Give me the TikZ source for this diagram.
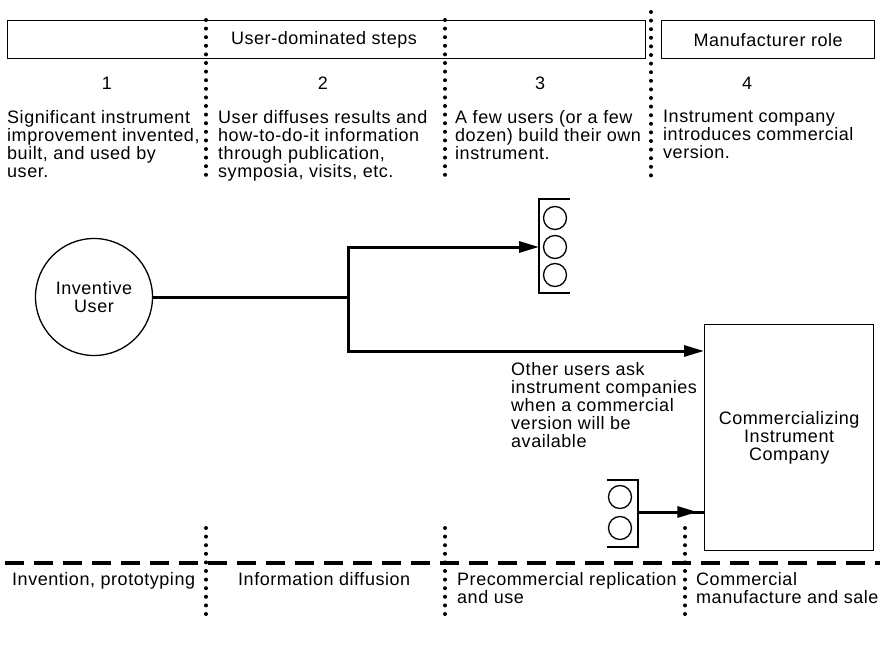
\documentclass[tikz,border=0pt]{standalone}
\usepackage{fontspec}
\setmainfont{Liberation Sans}[LetterSpace=3]
\usetikzlibrary{arrows.meta,decorations.markings}
\begin{document}
\begin{tikzpicture}[x=1pt,y=-1pt,
  every node/.style={font=\fontsize{18}{18}\selectfont, inner sep=0pt},
  frame/.style={draw, line width=1.3pt},
  dots/.style={line width=4pt, line cap=round, dash pattern=on 0pt off 8.6pt},
  phase/.style={line width=4.5pt, dash pattern=on 19pt off 10pt},
  flow/.style={line width=3pt},
  tip/.style={-{Triangle[length=20pt,width=11pt]}},
  desc/.style={align=left, anchor=north west},
  ring/.style={draw, circle, line width=1.3pt, minimum size=23pt}
]
\useasboundingbox (0,0) rectangle (892,650);

% top bars
\node[frame, minimum width=638pt, minimum height=38pt, anchor=north west] (userbar) at (7,20) {};
\node (userlbl) at (324,40) {User-dominated steps};
\node[frame, minimum width=213pt, minimum height=38pt, anchor=north west] (mfrbar) at (661,20) {Manufacturer role};

% top dotted separators
\draw[dots] (206,20) -- (206,182);
\draw[dots] (445,20) -- (445,182);
\draw[dots] (651,12) -- (651,182);

% step numbers
\node (n1) at (107,83) {1};
\node (n2) at (323,83) {2};
\node (n3) at (540,83) {3};
\node (n4) at (747,83) {4};

% step descriptions
\node[desc] (d1) at (7,110) {Significant instrument\\improvement invented,\\built, and used by\\user.};
\node[desc] (d2) at (218,110) {User diffuses results and\\how-to-do-it information\\through publication,\\symposia, visits, etc.};
\node[desc] (d3) at (455,110) {A few users (or a few\\dozen) build their own\\instrument.};
\node[desc] (d4) at (663,110) {Instrument company\\introduces commercial\\version.};

% inventive user
\node[draw, circle, line width=1.3pt, minimum size=117pt, align=center] (user) at (94,297) {Inventive\\User};

% group of three instruments
\node[ring] (g1a) at (555,218) {};
\node[ring] (g1b) at (555,247) {};
\node[ring] (g1c) at (555,275) {};
\draw[line width=1.3pt] (570,199) -- (539,199) -- (539,293) -- (570,293);
\coordinate (g1in) at (539,247);

% company
\node[frame, minimum width=169pt, minimum height=226pt, anchor=north west, align=center] (company) at (704,324) {Commercializing\\Instrument\\Company};
\coordinate (cin) at (704,351);
\coordinate (cin2) at (704,512);

% branching connectors
\coordinate (jm) at (348,297);
\draw[flow] (user.east) -- (jm);
\draw[flow, tip] (jm) |- (g1in);
\draw[flow, tip] (jm) |- (cin);

\node[desc] (ask) at (511,362) {Other users ask\\instrument companies\\when a commercial\\version will be\\available};

% group of two instruments
\node[ring] (g2a) at (620,497) {};
\node[ring] (g2b) at (620,528) {};
\draw[line width=1.3pt] (607,480) -- (638,480) -- (638,547) -- (607,547);
\coordinate (g2out) at (638,512);
\draw[flow, postaction={decorate}, decoration={markings, mark=at position 0.9 with {\arrow{Triangle[length=20pt,width=11pt]}}}] (g2out) -- (cin2);

% bottom phase line
\draw[phase] (5,563) -- (880,563);
\draw[dots] (206,528) -- (206,620);
\draw[dots] (445,528) -- (445,620);
\draw[dots] (685,528) -- (685,620);

\node[desc] (p1) at (12,572) {Invention, prototyping};
\node[desc] (p2) at (238,572) {Information diffusion};
\node[desc] (p3) at (457,572) {Precommercial replication\\and use};
\node[desc] (p4) at (696,572) {Commercial\\manufacture and sale};
\end{tikzpicture}
\end{document}
